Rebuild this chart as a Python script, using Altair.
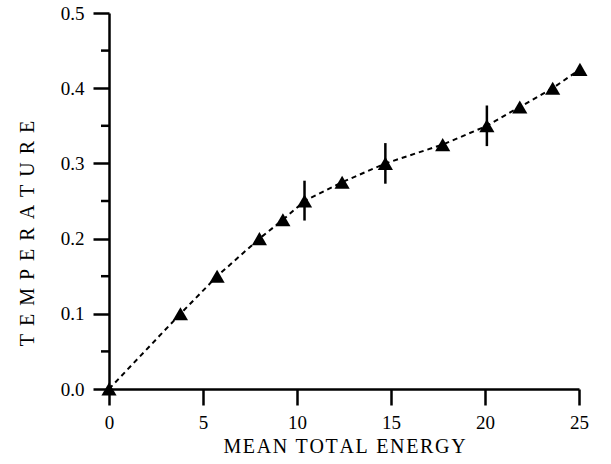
import altair as alt
import pandas as pd

# Measured series: mean total energy vs. temperature
energy = [0.0, 3.8, 5.75, 8.0, 9.25, 10.4, 12.4, 14.7, 17.75, 20.1, 21.85, 23.6, 25.05]
temperature = [0.0, 0.1, 0.15, 0.2, 0.225, 0.25, 0.275, 0.3, 0.325, 0.35, 0.375, 0.4, 0.425]

# Error bars on selected points
err_energy = [10.4, 14.7, 20.1]
err_low = [0.224, 0.273, 0.323]
err_high = [0.277, 0.327, 0.377]

# Axis tick values
x_ticks = [0, 5, 10, 15, 20, 25]
y_ticks = [0.0, 0.1, 0.2, 0.3, 0.4, 0.5]
y_minor = [0.05, 0.15, 0.25, 0.35, 0.45]

FONT = "Liberation Serif"

df = pd.DataFrame({"energy": energy, "temperature": temperature})
err = pd.DataFrame({"energy": err_energy, "lo": err_low, "hi": err_high})
minor = pd.DataFrame({"temperature": y_minor})

def spaced(text, sep):
    return sep.join(text)

x_scale = alt.Scale(domain=[0, 25], nice=False, zero=False)
y_scale = alt.Scale(domain=[0, 0.5], nice=False, zero=False)

x_enc = alt.X(
    "energy:Q",
    scale=x_scale,
    axis=alt.Axis(
        values=x_ticks,
        title=spaced("MEAN TOTAL ENERGY", "\u200a"),
        titleY=63,
        labelPadding=8,
        format="d",
    ),
)

y_enc = alt.Y(
    "temperature:Q",
    scale=y_scale,
    axis=alt.Axis(
        values=y_ticks,
        title=spaced("TEMPERATURE", "\u2009\u2009"),
        titleX=-76,
        titleY=220,
        labelPadding=9,
        format=".1f",
    ),
)

line = alt.Chart(df).mark_line(
    color="black", strokeWidth=2, strokeDash=[5, 4]
).encode(x=x_enc, y=y_enc)

points = alt.Chart(df).mark_point(
    shape="triangle-up", filled=True, color="black", opacity=1, size=230
).encode(x="energy:Q", y="temperature:Q")

bars = alt.Chart(err).mark_rule(color="black", strokeWidth=2.5).encode(
    x="energy:Q", y="lo:Q", y2="hi:Q"
)

# Short minor ticks on the left axis
minor_ticks = alt.Chart(minor).mark_rule(color="black", strokeWidth=2.5, clip=False).encode(
    x=alt.value(-8), x2=alt.value(0), y="temperature:Q"
)

chart = (
    alt.layer(line, bars, points, minor_ticks)
    .properties(
        width=470,
        height=376,
        autosize=alt.AutoSizeParams(type="none"),
        padding={"left": 109, "top": 13, "right": 32, "bottom": 75},
        background="white",
    )
    .configure_view(stroke=None)
    .configure_axis(
        domainColor="black",
        domainWidth=2.5,
        tickColor="black",
        tickWidth=2.5,
        tickSize=16,
        labelFlush=False,
        grid=False,
        labelFont=FONT,
        labelFontSize=19,
        labelColor="black",
        titleFont=FONT,
        titleFontSize=20,
        titleFontWeight="normal",
        titleBaseline="alphabetic",
        titleColor="black",
    )
)

chart.save("out.html", embed_options={"renderer": "svg", "actions": False})
